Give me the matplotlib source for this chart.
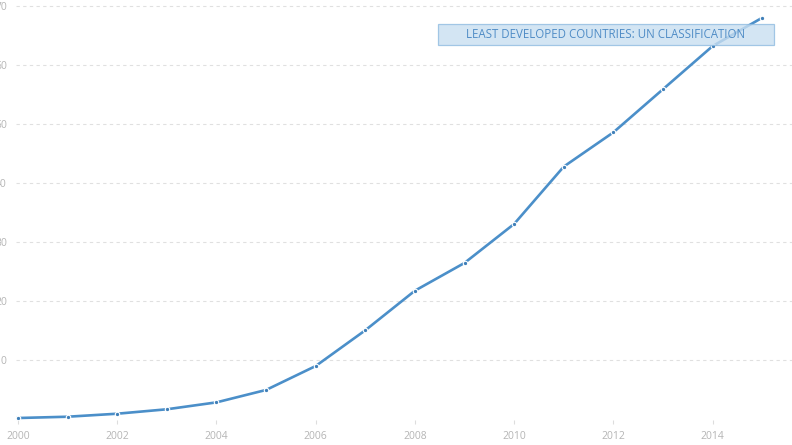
import matplotlib.pyplot as plt
from matplotlib.patches import FancyBboxPatch

# values
years = [2000, 2001, 2002, 2003, 2004, 2005, 2006, 2007,
         2008, 2009, 2010, 2011, 2012, 2013, 2014, 2015]
values = [0.25, 0.47, 0.98, 1.73, 2.9, 5.0, 9.05, 15.1,
          21.8, 26.5, 33.1, 42.8, 48.6, 55.9, 63.2, 68.0]
x_ticks = [2000, 2002, 2004, 2006, 2008, 2010, 2012, 2014]
y_ticks = [10, 20, 30, 40, 50, 60, 70]
label = "LEAST DEVELOPED COUNTRIES: UN CLASSIFICATION"

plt.rcParams['font.family'] = ['Open Sans', 'DejaVu Sans']

fig = plt.figure(figsize=(7.92, 4.45), dpi=100)
W, H = 792, 445
ax = fig.add_axes([16 / W, (H - 419.5) / H, (792 - 16) / W, 419.5 / H])

line_col = '#4b8fc9'
ax.plot(years, values, color=line_col, lw=1.9, zorder=3,
        marker='o', ms=3.2, mfc='#3f7fb8', mec='white', mew=0.8)

ax.set_xlim(1999.96, 2015.6)
ax.set_ylim(0, 71.0)
ax.set_xticks(x_ticks)
ax.set_yticks(y_ticks)

for s in ax.spines.values():
    s.set_visible(False)

ax.grid(axis='y', color='#e0e0e0', lw=0.8, ls=(0, (3, 3)))
ax.tick_params(axis='y', length=0, pad=6.5, labelsize=7.5, labelcolor='#b5b5b5')
ax.tick_params(axis='x', length=3, width=0.8, color='#dddddd', pad=5,
               labelsize=7.5, labelcolor='#b5b5b5')

# legend-like label box
box = FancyBboxPatch((438 / W, 1 - 45 / H), (774 - 438) / W, 21 / H,
                     boxstyle='square,pad=0', transform=fig.transFigure,
                     facecolor='#c9dff1', edgecolor='#8fbbe0', lw=0.9,
                     alpha=0.8, zorder=5)
fig.patches.append(box)
fig.text((438 + 774) / 2 / W, 1 - 34.5 / H, label, ha='center', va='center',
         fontsize=8.3, color='#4f8cc6', zorder=6)

fig.savefig('out.png', dpi=100)
